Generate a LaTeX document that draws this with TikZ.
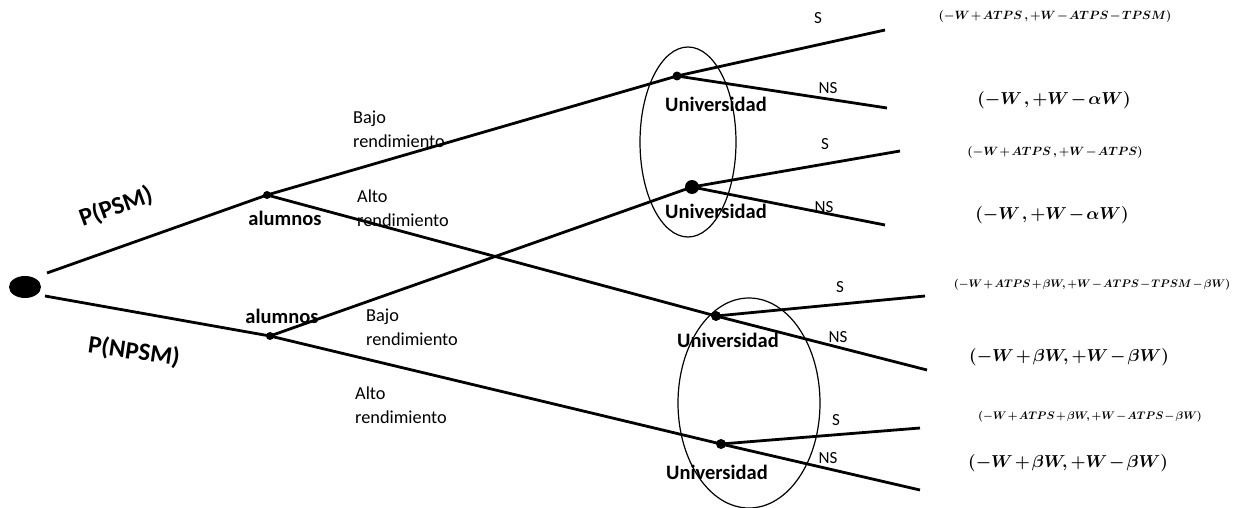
\documentclass[tikz,border=0pt]{standalone}
\usepackage{fontspec}
\setmainfont{Carlito}
\usepackage{amsmath}
\usepackage{bm}
\usetikzlibrary{shapes.geometric}
\newcommand{\payoff}[1]{$\medmuskip=2mu plus 1mu minus 1mu\thickmuskip=2mu\bm{#1}$}
\begin{document}
\begin{tikzpicture}[x=1pt,y=-1pt,
  branch/.style={line width=2.8pt},
  infoset/.style={line width=1.2pt},
  treedot/.style={circle,fill=black,inner sep=0pt,minimum size=#1},
  treedot/.default=8pt,
  player/.style={font=\fontsize{20.5}{22}\selectfont\bfseries,inner sep=0pt},
  act/.style={font=\fontsize{17}{19}\selectfont,inner sep=0pt},
  move/.style={font=\fontsize{18.3}{24}\selectfont,align=left,inner sep=0pt,anchor=west},
  prob/.style={font=\fontsize{25}{27}\selectfont\bfseries,inner sep=0pt},
  pay/.style={inner sep=0pt}
]
\useasboundingbox (0,0) rectangle (1235,508);

% nodes
\node[ellipse,fill=black,minimum width=32pt,minimum height=22pt,inner sep=0pt] (root) at (25,287) {};
\node[treedot=8pt] (a1) at (267,195) {};
\node[treedot=8pt] (a2) at (270,336) {};
\node[treedot=9pt] (u1) at (677,76) {};
\node[treedot=14pt] (u2) at (692,187) {};
\node[treedot=10pt] (u3) at (716,316) {};
\node[treedot=10pt] (u4) at (721,444) {};

\coordinate (r1) at (47,273);
\coordinate (r2) at (45,296);
\coordinate (u1s) at (885,30);
\coordinate (u1n) at (887,108);
\coordinate (u2s) at (900,151);
\coordinate (u2n) at (885,225);
\coordinate (u3s) at (925,296);
\coordinate (u3n) at (927,370);
\coordinate (u4s) at (920,428);
\coordinate (u4n) at (920,490);

% branches
\draw[branch] (r1) -- (a1.center);
\draw[branch] (r2) -- (a2.center);
\draw[branch] (a1.center) -- (u1.center) -- (u1s);
\draw[branch] (u1.center) -- (u1n);
\draw[branch] (a1.center) -- (u3.center) -- (u3n);
\draw[branch] (u3.center) -- (u3s);
\draw[branch] (a2.center) -- (u2.center) -- (u2s);
\draw[branch] (u2.center) -- (u2n);
\draw[branch] (a2.center) -- (u4.center) -- (u4n);
\draw[branch] (u4.center) -- (u4s);

% information sets
\draw[infoset] (688,142) ellipse [x radius=48, y radius=95];
\draw[infoset] (749,403) ellipse [x radius=71, y radius=105];

% labels
\node[prob,rotate=20] (pp) at (116,207) {P(PSM)};
\node[prob,rotate=-8] (pn) at (134,352) {P(NPSM)};
\node[player] (la1) at (285,218) {alumnos};
\node[player] (la2) at (282,316) {alumnos};
\node[player] (lu1) at (716,104) {Universidad};
\node[player] (lu2) at (716,211) {Universidad};
\node[player] (lu3) at (728,340) {Universidad};
\node[player] (lu4) at (717,472) {Universidad};

\node[move] (m1) at (353,129) {Bajo\\rendimiento};
\node[move] (m2) at (357,208) {Alto\\rendimiento};
\node[move] (m3) at (366,327) {Bajo\\rendimiento};
\node[move] (m4) at (355,405) {Alto\\rendimiento};

\node[act] (s1) at (818,18) {S};
\node[act] (n1) at (828,88) {NS};
\node[act] (s2) at (825,144) {S};
\node[act] (n2) at (824,207) {NS};
\node[act] (s3) at (840,287) {S};
\node[act] (n3) at (838,337) {NS};
\node[act] (s4) at (836,420) {S};
\node[act] (n4) at (828,458) {NS};

% payoffs
\node[pay,font=\fontsize{12.3}{14}\selectfont] (p1) at (1055,17) {\payoff{(-W+ATPS\,,+W-ATPS-TPSM)}};
\node[pay,font=\fontsize{16}{19}\selectfont] (p2) at (1054,100) {\payoff{(-W\;,+W-\alpha W)}};
\node[pay,font=\fontsize{12.6}{14}\selectfont] (p3) at (1055,153) {\payoff{(-W+ATPS\,,+W-ATPS)}};
\node[pay,font=\fontsize{16}{19}\selectfont] (p4) at (1052,215) {\payoff{(-W\;,+W-\alpha W)}};
\node[pay,font=\fontsize{10.6}{12}\selectfont] (p5) at (1092,285) {\payoff{(-W+ATPS+\beta W,+W-ATPS-TPSM-\beta W)}};
\node[pay,font=\fontsize{17.5}{19}\selectfont] (p6) at (1069,357) {\payoff{(-W+\beta W,+W-\beta W)}};
\node[pay,font=\fontsize{11.3}{12}\selectfont] (p7) at (1090,417) {\payoff{(-W+ATPS+\beta W,+W-ATPS-\beta W)}};
\node[pay,font=\fontsize{17.5}{19}\selectfont] (p8) at (1068,463) {\payoff{(-W+\beta W,+W-\beta W)}};
\end{tikzpicture}
\end{document}
